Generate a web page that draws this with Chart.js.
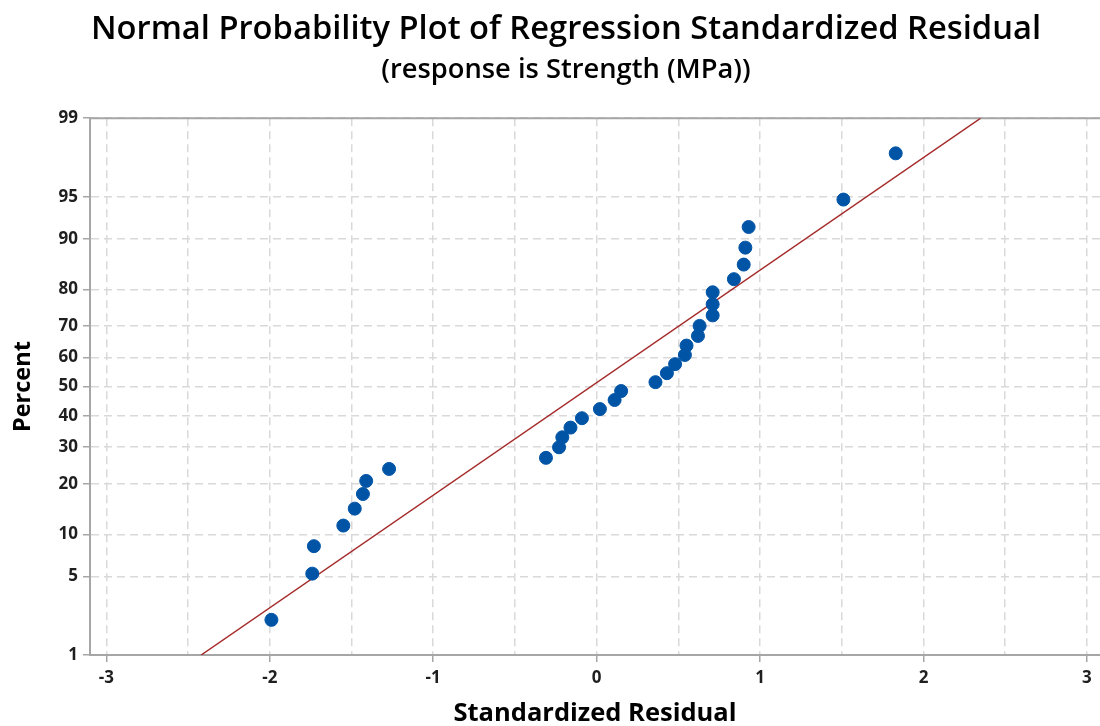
<!DOCTYPE html>
<html>
<head>
<meta charset="utf-8">
<script src="https://cdn.jsdelivr.net/npm/chart.js@4.4.1/dist/chart.umd.min.js"></script>
<style>
  body { margin: 0; background: #fff; }
  #wrap { width: 1100px; height: 726px; }
</style>
</head>
<body>
<div id="wrap"><canvas id="chart"></canvas></div>
<script>
// Residuos padronizados
const residuals = [
  -1.99, -1.74, -1.73, -1.55, -1.48, -1.43, -1.41, -1.27,
  -0.31, -0.23, -0.21, -0.16, -0.09, 0.02, 0.11, 0.15,
  0.36, 0.43, 0.48, 0.54, 0.55, 0.62, 0.63, 0.71,
  0.71, 0.71, 0.84, 0.90, 0.91, 0.93, 1.51, 1.83
];
// Percentual de cada ponto
const percents = [
  2.16, 5.25, 8.33, 11.42, 14.51, 17.59, 20.68, 23.77,
  26.85, 29.94, 33.02, 36.11, 39.20, 42.28, 45.37, 48.46,
  51.54, 54.63, 57.72, 60.80, 63.89, 66.98, 70.06, 73.15,
  76.23, 79.32, 82.41, 85.49, 88.58, 91.67, 94.75, 97.84
];
// Reta ajustada (extremos)
const fitResiduals = [-2.42, 2.35];
const fitPercents = [1, 99];

const yTickPercents = [1, 5, 10, 20, 30, 40, 50, 60, 70, 80, 90, 95, 99];
const xTicks = [-3, -2.5, -2, -1.5, -1, -0.5, 0, 0.5, 1, 1.5, 2, 2.5, 3];

// Inversa da normal (Acklam) para a escala de probabilidade
function probit(p) {
  const a = [-3.969683028665376e+01, 2.209460984245205e+02, -2.759285104469687e+02, 1.383577518672690e+02, -3.066479806614716e+01, 2.506628277459239e+00];
  const b = [-5.447609879822406e+01, 1.615858368580409e+02, -1.556989798598866e+02, 6.680131188771972e+01, -1.328068155288572e+01];
  const c = [-7.784894002430293e-03, -3.223964580411365e-01, -2.400758277161838e+00, -2.549732539343734e+00, 4.374664141464968e+00, 2.938163982698783e+00];
  const d = [7.784695709041462e-03, 3.224671290700398e-01, 2.445134137142996e+00, 3.754408661907416e+00];
  const pl = 0.02425, ph = 1 - pl;
  let q, r;
  if (p < pl) {
    q = Math.sqrt(-2 * Math.log(p));
    return (((((c[0]*q+c[1])*q+c[2])*q+c[3])*q+c[4])*q+c[5]) / ((((d[0]*q+d[1])*q+d[2])*q+d[3])*q+1);
  }
  if (p > ph) {
    q = Math.sqrt(-2 * Math.log(1 - p));
    return -(((((c[0]*q+c[1])*q+c[2])*q+c[3])*q+c[4])*q+c[5]) / ((((d[0]*q+d[1])*q+d[2])*q+d[3])*q+1);
  }
  q = p - 0.5; r = q * q;
  return (((((a[0]*r+a[1])*r+a[2])*r+a[3])*r+a[4])*r+a[5])*q / (((((b[0]*r+b[1])*r+b[2])*r+b[3])*r+b[4])*r+1);
}

const FONT = "'Open Sans', 'Noto Sans', sans-serif";
const gridGray = "#d9d9d9";
const axisGray = "#a6a6a6";

// Linha de cima do quadro
const frameTop = {
  id: "frameTop",
  beforeDatasetsDraw(chart) {
    const { ctx, chartArea: a } = chart;
    ctx.save();
    ctx.strokeStyle = axisGray;
    ctx.lineWidth = 2;
    ctx.beginPath();
    ctx.moveTo(a.left, a.top);
    ctx.lineTo(a.right, a.top);
    ctx.stroke();
    ctx.restore();
  }
};

new Chart(document.getElementById("chart"), {
  type: "scatter",
  data: {
    datasets: [
      {
        label: "Ajuste",
        type: "line",
        data: fitResiduals.map((x, i) => ({ x: x, y: probit(fitPercents[i] / 100) })),
        borderColor: "#a52a2a",
        borderWidth: 1.5,
        pointRadius: 0,
        fill: false,
        order: 2
      },
      {
        label: "Residuos",
        data: residuals.map((x, i) => ({ x: x, y: probit(percents[i] / 100) })),
        backgroundColor: "#0054a6",
        borderColor: "#0054a6",
        pointRadius: 6.5,
        order: 1
      }
    ]
  },
  options: {
    responsive: true,
    maintainAspectRatio: false,
    animation: false,
    layout: { padding: { left: 32, right: 0, top: 0, bottom: 0 }, autoPadding: false },
    plugins: {
      legend: { display: false },
      tooltip: { enabled: false },
      title: {
        display: true,
        text: "Normal Probability Plot of Regression Standardized Residual",
        color: "#000",
        font: { family: FONT, size: 32.7, weight: "600" },
        padding: { top: 10.5, bottom: 4.4 }
      },
      subtitle: {
        display: true,
        text: "(response is Strength (MPa))",
        color: "#000",
        font: { family: FONT, size: 27.3, weight: "600" },
        padding: { top: 0, bottom: 31.3 }
      }
    },
    scales: {
      x: {
        type: "linear",
        min: -3.1,
        max: 3.08,
        afterBuildTicks: s => { s.ticks = xTicks.map(v => ({ value: v })); },
        afterFit: s => { s.height = 71; s.paddingRight = 0; s.paddingLeft = 0; },
        ticks: {
          autoSkip: false,
          maxRotation: 0,
          padding: 6,
          color: "#1f1f1f",
          font: { family: FONT, size: 17, weight: "bold" },
          callback: v => Number.isInteger(v) ? String(v) : ""
        },
        grid: {
          color: gridGray,
          lineWidth: 1.5,
          tickLength: 7,
          tickColor: ctx => (ctx.tick && Number.isInteger(ctx.tick.value)) ? axisGray : "rgba(0,0,0,0)",
          tickWidth: 1.5
        },
        border: { color: axisGray, width: 2, dash: [8, 5] },
        title: {
          display: true,
          text: "Standardized Residual",
          color: "#000",
          font: { family: FONT, size: 25.5, weight: "bold", lineHeight: 1 },
          padding: { top: 0, bottom: 0 }
        }
      },
      y: {
        type: "linear",
        min: probit(0.01),
        max: probit(0.99),
        afterBuildTicks: s => { s.ticks = yTickPercents.map(p => ({ value: probit(p / 100) })); },
        afterFit: s => { s.width = 58; },
        ticks: {
          autoSkip: false,
          padding: 5,
          color: "#1f1f1f",
          font: { family: FONT, size: 17, weight: "bold" },
          callback: (v, i) => String(yTickPercents[i])
        },
        grid: {
          color: gridGray,
          lineWidth: 1.5,
          tickLength: 7,
          tickColor: axisGray,
          tickWidth: 1.5
        },
        border: { color: axisGray, width: 2, dash: [8, 5] },
        title: {
          display: true,
          text: "Percent",
          color: "#000",
          font: { family: FONT, size: 23.5, weight: "bold", lineHeight: 1 },
          padding: { top: -20, bottom: 0 }
        }
      }
    }
  },
  plugins: [frameTop]
});
</script>
</body>
</html>
